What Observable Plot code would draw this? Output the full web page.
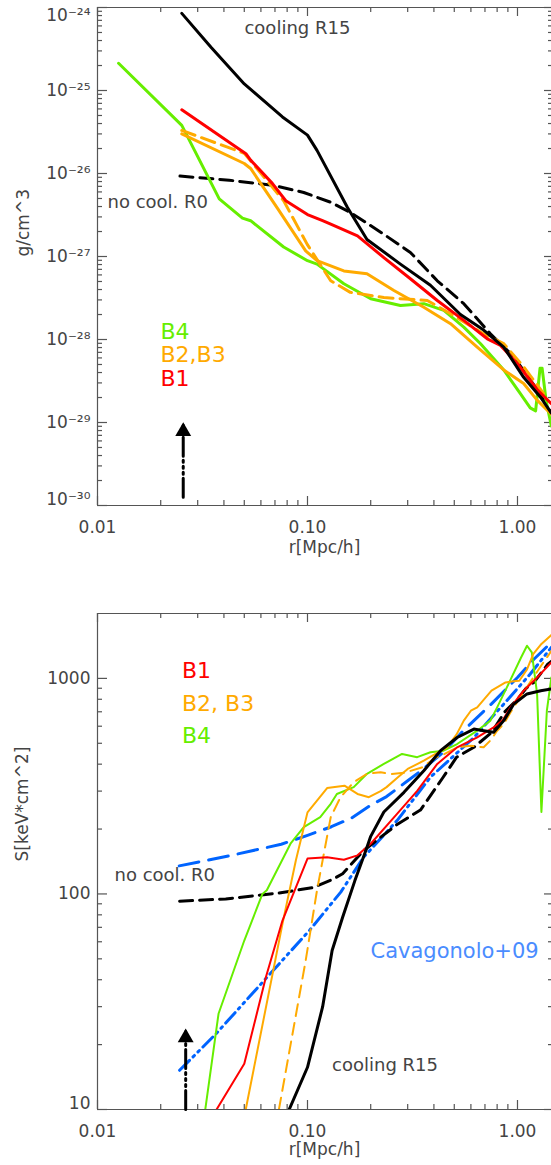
<!DOCTYPE html>
<html><head><meta charset="utf-8">
<script src="https://cdn.jsdelivr.net/npm/d3@7"></script>
<script src="https://cdn.jsdelivr.net/npm/@observablehq/plot@0.6"></script>
<style>
html,body{margin:0;padding:0;background:#fff;}
body{width:551px;height:1165px;overflow:hidden;}
#chart svg{display:block;}
</style></head><body><div id="chart"></div>
<script>
// ---------- shared x axis ----------
const xDomain = [0.01, 1.452];
const xMajor = [0.01, 0.1, 1];
const xLabels = ["0.01", "0.10", "1.00"];

// ---------- top panel: density (g/cm^3) ----------
const topYDomain = [1e-30, 1e-24];
const topYMajor = [1e-30, 1e-29, 1e-28, 1e-27, 1e-26, 1e-25, 1e-24];
const topYLabels = ["10⁻³⁰", "10⁻²⁹", "10⁻²⁸", "10⁻²⁷", "10⁻²⁶", "10⁻²⁵", "10⁻²⁴"];

const denR15_r = [0.0252, 0.0348, 0.05, 0.076, 0.1, 0.111, 0.155, 0.192, 0.277, 0.385, 0.535, 0.69, 0.86, 1.07, 1.29, 1.45];
const denR15_v = [8.5e-25, 3.3e-25, 1.2e-25, 4.8e-26, 2.9e-26, 1.9e-26, 3.9e-27, 1.6e-27, 8.1e-28, 4.5e-28, 2.0e-28, 1.3e-28, 8.1e-29, 3.5e-29, 2.0e-29, 1.3e-29];

const denR0_r = [0.0247, 0.0424, 0.069, 0.096, 0.129, 0.16, 0.231, 0.309, 0.415, 0.555, 0.743, 0.96, 1.24, 1.45];
const denR0_v = [9.3e-27, 8.3e-27, 7.2e-27, 5.9e-27, 4.5e-27, 3.4e-27, 1.85e-27, 1.12e-27, 5.1e-28, 2.7e-28, 1.17e-28, 6.2e-29, 2.5e-29, 1.3e-29];

const denB1_r = [0.0252, 0.0509, 0.0536, 0.068, 0.0788, 0.1, 0.118, 0.129, 0.173, 0.231, 0.309, 0.415, 0.555, 0.718, 0.83, 1.0, 1.24, 1.45];
const denB1_v = [5.85e-26, 1.73e-26, 1.45e-26, 7.6e-27, 4.7e-27, 3.2e-27, 2.7e-27, 2.45e-27, 1.77e-27, 9.7e-28, 5.4e-28, 2.95e-28, 1.7e-28, 1.02e-28, 8.5e-29, 5.1e-29, 2.5e-29, 1.68e-29];

const denB2_r = [0.0252, 0.05, 0.0536, 0.072, 0.098, 0.111, 0.149, 0.192, 0.258, 0.358, 0.48, 0.643, 0.86, 1.07, 1.24, 1.45];
const denB2_v = [3.0e-26, 1.32e-26, 1.15e-26, 3.8e-27, 1.17e-27, 8.9e-28, 6.7e-28, 6.2e-28, 3.9e-28, 2.45e-28, 1.55e-28, 8.1e-29, 4.3e-29, 2.95e-29, 1.86e-29, 1.26e-29];

const denB3_r = [0.0252, 0.05, 0.077, 0.0997, 0.129, 0.16, 0.231, 0.372, 0.48, 0.69, 0.86, 1.07, 1.33];
const denB3_v = [3.3e-26, 1.75e-26, 4.7e-27, 1.4e-27, 5.1e-28, 3.7e-28, 3.2e-28, 2.95e-28, 2.04e-28, 1.17e-28, 8.9e-29, 4.7e-29, 2.24e-29];

const denB4_r = [0.0126, 0.0252, 0.038, 0.049, 0.0536, 0.077, 0.1, 0.111, 0.149, 0.2, 0.277, 0.358, 0.446, 0.555, 0.667, 0.86, 1.03, 1.15, 1.22, 1.28, 1.31, 1.37, 1.45];
const denB4_v = [2.13e-25, 3.8e-26, 4.95e-27, 2.9e-27, 2.7e-27, 1.3e-27, 8.9e-28, 8.1e-28, 4.7e-28, 3.1e-28, 2.57e-28, 2.7e-28, 2.24e-28, 1.41e-28, 8.9e-29, 4.3e-29, 2.24e-29, 1.5e-29, 1.38e-29, 4.5e-29, 4.5e-29, 1.8e-29, 9e-30];

const arrowTop_r = [0.0256, 0.0256];
const arrowTop_v = [1.26e-30, 1.0e-29];

// ---------- bottom panel: entropy (keV cm^2) ----------
const botYDomain = [10, 2000];
const botYMajor = [10, 100, 1000];
const botYLabels = ["10", "100", "1000"];

const entR15_r = [0.0818, 0.1, 0.118, 0.131, 0.147, 0.168, 0.19, 0.2, 0.231, 0.288, 0.358, 0.43, 0.516, 0.62, 0.69, 0.77, 0.86, 0.96, 1.11, 1.29, 1.45];
const entR15_v = [10, 15.7, 29.9, 54.7, 78, 115, 160, 185, 240, 296, 373, 462, 532, 582, 572, 562, 637, 760, 847, 877, 893];

const entR0_r = [0.0246, 0.0408, 0.073, 0.106, 0.132, 0.147, 0.185, 0.267, 0.345, 0.44, 0.513, 0.62, 0.752, 0.87, 1.0, 1.1, 1.2, 1.39, 1.45];
const entR0_v = [92.5, 94.8, 101, 107, 117, 124, 159, 210, 245, 345, 431, 479, 560, 700, 800, 900, 960, 1160, 1200];

const entB1_r = [0.0369, 0.05, 0.0568, 0.0633, 0.076, 0.1, 0.124, 0.149, 0.173, 0.2, 0.267, 0.333, 0.415, 0.516, 0.643, 0.77, 0.85, 0.927, 1.07, 1.24, 1.45];
const entB1_v = [10, 16.3, 26.8, 41, 75.3, 146, 148, 144, 151, 171, 235, 301, 401, 479, 532, 593, 640, 734, 877, 1010, 1186];

const entB2_r = [0.0508, 0.076, 0.088, 0.1, 0.124, 0.15, 0.173, 0.196, 0.223, 0.238, 0.267, 0.3, 0.358, 0.407, 0.462, 0.513, 0.555, 0.6, 0.643, 0.752, 0.877, 0.96, 1.02, 1.11, 1.19, 1.3, 1.45];
const entB2_v = [10, 72.6, 143, 239, 310, 318, 291, 281, 300, 313, 345, 380, 415, 446, 479, 550, 637, 708, 734, 877, 958, 970, 975, 1100, 1298, 1445, 1590];

const entB3_r = [0.0731, 0.098, 0.111, 0.118, 0.129, 0.1436, 0.166, 0.192, 0.223, 0.25, 0.29, 0.35, 0.41, 0.45, 0.52, 0.6, 0.69, 0.75, 0.8, 0.86, 0.93, 1.1, 1.3, 1.45];
const entB3_v = [10, 49, 104, 143, 227, 281, 330, 361, 367, 360, 365, 386, 430, 446, 480, 487, 479, 520, 572, 614, 700, 900, 1150, 1340];

const entB4_r = [0.0326, 0.0377, 0.05, 0.061, 0.064, 0.083, 0.096, 0.115, 0.129, 0.138, 0.166, 0.192, 0.231, 0.282, 0.333, 0.385, 0.445, 0.516, 0.643, 0.743, 0.8, 0.89, 1.04, 1.11, 1.17, 1.24, 1.30, 1.38, 1.45];
const entB4_v = [10, 27.8, 60.8, 100, 104, 171, 204, 227, 262, 291, 313, 361, 401, 446, 431, 454, 462, 496, 572, 637, 734, 908, 1250, 1417, 1320, 847, 240, 708, 1010];

const entFit_r = [0.0245, 0.042, 0.075, 0.1, 0.13, 0.162, 0.2, 0.238, 0.3, 0.35, 0.45, 0.55, 0.75, 1.0, 1.2, 1.45];
const entFit_v = [135, 150, 170, 187, 205, 225, 258, 283, 335, 375, 460, 570, 760, 1010, 1230, 1470];

const entCav_r = [0.0246, 0.0366, 0.0632, 0.102, 0.144, 0.185, 0.267, 0.385, 0.62, 0.86, 1.15, 1.45];
const entCav_v = [15.2, 22.4, 40.4, 67.6, 102, 148, 219, 348, 532, 760, 1048, 1393];

const arrowBot_r = [0.0263, 0.0263];
const arrowBot_v = [10, 23.7];

// ---------- colours ----------
const RED = "#ff0000", ORANGE = "#ffaa00", GREEN = "#66ee00", BLUE = "#0064ff", BLUE_TXT = "#4a8cff", TEXT = "#444", AXIS = "#555";
const FONT = "DejaVu Sans, sans-serif";

const zip = (r, v) => r.map((x, i) => ({r: x, v: v[i]}));

function minorTicks(lo, hi) {
  const out = [];
  for (let n = Math.floor(Math.log10(lo)); n <= Math.ceil(Math.log10(hi)); n++)
    for (let k = 2; k <= 9; k++) {
      const v = k * Math.pow(10, n);
      if (v > lo && v < hi) out.push(v);
    }
  return out;
}

function frameMarks(yDomain, yMajor, yLabels, plotW, plotH) {
  const yMinor = minorTicks(yDomain[0], yDomain[1]);
  const xMinor = minorTicks(xDomain[0], xDomain[1]);
  const xMaj = xMajor.filter(d => d <= xDomain[1]);
  const labMap = new Map(yMajor.map((v, i) => [v, yLabels[i]]));
  const xLabMap = new Map(xMajor.map((v, i) => [v, xLabels[i]]));
  const s = {stroke: AXIS, strokeWidth: 1.2};
  const yAx = {tickFormat: d => labMap.get(d), tickSize: 0, tickPadding: 7, fill: TEXT, fontSize: 17, label: null};
  const inner = yMajor.filter(d => d !== yDomain[0] && d !== yDomain[1]);
  const lowEnd = yMajor.filter(d => d === yDomain[0]);
  const highEnd = yMajor.filter(d => d === yDomain[1]);
  return [
    Plot.ruleX([xDomain[0]], {...s}),
    Plot.ruleY(yDomain, {...s}),
    // left ticks (inward)
    Plot.tickY(yMajor, {y: d => d, insetRight: plotW - 10, ...s}),
    Plot.tickY(yMinor, {y: d => d, insetRight: plotW - 5, ...s}),
    // right ticks (inward)
    Plot.tickY(yMajor, {y: d => d, insetLeft: plotW - 7, ...s}),
    Plot.tickY(yMinor, {y: d => d, insetLeft: plotW - 3, ...s}),
    // bottom ticks
    Plot.tickX(xMaj, {x: d => d, insetTop: plotH - 9, ...s}),
    Plot.tickX(xMinor, {x: d => d, insetTop: plotH - 5, ...s}),
    // top ticks
    Plot.tickX(xMaj, {x: d => d, insetBottom: plotH - 9, ...s}),
    Plot.tickX(xMinor, {x: d => d, insetBottom: plotH - 5, ...s}),
    Plot.axisX({ticks: xMaj, tickFormat: d => xLabMap.get(d), tickSize: 0, tickPadding: 15, fill: TEXT, fontSize: 17, label: null}),
    Plot.axisY({ticks: inner, ...yAx}),
    Plot.axisY({ticks: lowEnd, ...yAx, dy: -6}),
    Plot.axisY({ticks: highEnd, ...yAx, dy: 8})
  ];
}

function lineMark(r, v, stroke, width, dash) {
  return Plot.line(zip(r, v), {x: "r", y: "v", stroke, strokeWidth: width, strokeDasharray: dash, clip: true, strokeLinejoin: "round"});
}

function arrowMarks(r, v) {
  const d = zip(r, v);
  return [
    Plot.line(d, {x: "r", y: "v", stroke: "black", strokeWidth: 3, strokeDasharray: "19,4,2,4,2,4,2,4"}),
    Plot.dot([d[d.length - 1]], {x: "r", y: "v", symbol: "triangle", r: 5.9, fill: "black", stroke: "none", dy: 9})
  ];
}

function label(txt, x, y, color, size, extra = {}) {
  return Plot.text([txt], {x: () => x, y: () => y, text: d => d, fill: color, fontSize: size, textAnchor: "start", lineAnchor: "middle", ...extra});
}

// ---------- top plot ----------
const W = 551;
const topH = 575, topMT = 7, topMB = 70, ML = 97, MR = 0;
const topPlot = Plot.plot({
  width: W, height: topH,
  marginLeft: ML, marginRight: MR, marginTop: topMT, marginBottom: topMB,
  style: {fontFamily: FONT, fontSize: "17px", background: "white", color: TEXT},
  x: {type: "log", domain: xDomain},
  y: {type: "log", domain: topYDomain},
  marks: [
    ...frameMarks(topYDomain, topYMajor, topYLabels, W - ML - MR, topH - topMT - topMB),
    Plot.text(["r[Mpc/h]"], {frameAnchor: "bottom", dy: 47, fill: TEXT, fontSize: 17}),
    Plot.text(["g/cm^3"], {frameAnchor: "left", dx: -74, rotate: -90, fill: TEXT, fontSize: 17, lineAnchor: "middle"}),
    lineMark(denR0_r, denR0_v, "black", 3, "13,7"),
    lineMark(denB4_r, denB4_v, GREEN, 3),
    lineMark(denB2_r, denB2_v, ORANGE, 3),
    lineMark(denB3_r, denB3_v, ORANGE, 3, "14,7"),
    lineMark(denB1_r, denB1_v, RED, 3),
    lineMark(denR15_r, denR15_v, "black", 3),
    ...arrowMarks(arrowTop_r, arrowTop_v),
    label("cooling R15", 0.0501, 5.66e-25, TEXT, 18),
    label("no cool. R0", 0.01116, 4.48e-27, TEXT, 18),
    label("B4", 0.01995, 1.24e-28, GREEN, 22),
    label("B2,B3", 0.01995, 6.47e-29, ORANGE, 22),
    label("B1", 0.01995, 3.33e-29, RED, 22)
  ]
});

// ---------- bottom plot ----------
const botH = 590, botMT = 38, botMB = 56;
const botPlot = Plot.plot({
  width: W, height: botH,
  marginLeft: ML, marginRight: MR, marginTop: botMT, marginBottom: botMB,
  style: {fontFamily: FONT, fontSize: "17px", background: "white", color: TEXT},
  x: {type: "log", domain: xDomain},
  y: {type: "log", domain: botYDomain},
  marks: [
    ...frameMarks(botYDomain, botYMajor, botYLabels, W - ML - MR, botH - botMT - botMB),
    Plot.text(["r[Mpc/h]"], {frameAnchor: "bottom", dy: 45, fill: TEXT, fontSize: 17}),
    Plot.text(["S[keV*cm^2]"], {frameAnchor: "left", dx: -75, rotate: -90, fill: TEXT, fontSize: 17, lineAnchor: "middle"}),
    lineMark(entFit_r, entFit_v, BLUE, 3, "20,10"),
    lineMark(entCav_r, entCav_v, BLUE, 3, "14,5,2,5,2,5"),
    lineMark(entR0_r, entR0_v, "black", 3, "13,7"),
    lineMark(entB4_r, entB4_v, GREEN, 2),
    lineMark(entB2_r, entB2_v, ORANGE, 2),
    lineMark(entB3_r, entB3_v, ORANGE, 2, "12,7"),
    lineMark(entB1_r, entB1_v, RED, 2),
    lineMark(entR15_r, entR15_v, "black", 3),
    ...arrowMarks(arrowBot_r, arrowBot_v),
    label("B1", 0.02525, 1086, RED, 22),
    label("B2, B3", 0.02525, 761, ORANGE, 22),
    label("B4", 0.02525, 542, GREEN, 22),
    label("no cool. R0", 0.01205, 121.6, TEXT, 18),
    label("Cavagonolo+09", 0.1995, 54.1, BLUE_TXT, 21),
    label("cooling R15", 0.131, 16.0, TEXT, 18)
  ]
});

const chart = document.getElementById("chart");
chart.appendChild(topPlot);
chart.appendChild(botPlot);
</script>
</body></html>
